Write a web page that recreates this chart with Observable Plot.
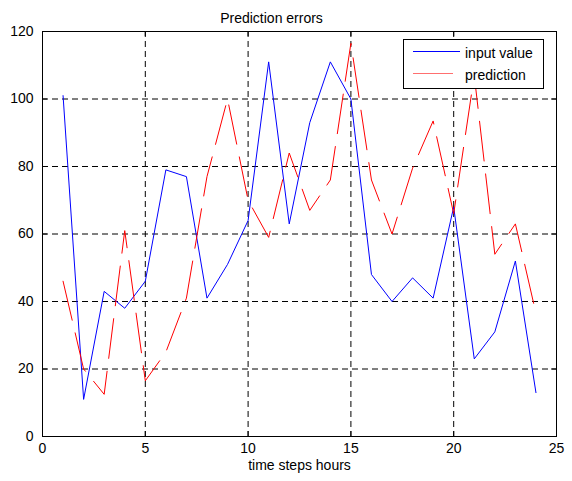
<!DOCTYPE html>
<html><head><meta charset="utf-8">
<script src="https://cdn.jsdelivr.net/npm/d3@7"></script>
<script src="https://cdn.jsdelivr.net/npm/@observablehq/plot@0.6"></script>
<style>
body{margin:0;background:#fff;}
svg{font-family:"Liberation Sans",Arial,Helvetica,sans-serif;}
</style>
</head><body><div id="chart"></div>
<script>
const steps = [1,2,3,4,5,6,7,8,9,10,11,12,13,14,15,16,17,18,19,20,21,22,23,24];
const inputValue = [101, 11, 43, 38, 46, 79, 77, 41, 51, 64, 111, 63, 93, 111, 100, 48, 40, 47, 41, 68, 23, 31, 52, 13];
const prediction = [46, 20, 12.5, 61, 16.5, 25, 41, 77, 100, 70, 59, 84, 67, 76, 116.5, 76, 60, 79.5, 93.5, 66, 107, 54, 63, 36.5];
const xTicks = [0, 5, 10, 15, 20, 25];
const yTicks = [0, 20, 40, 60, 80, 100, 120];
const gridX = [5, 10, 15, 20];
const gridY = [20, 40, 60, 80, 100];
const titleText = "Prediction errors";
const xLabel = "time steps hours";
const seriesNames = ["input value", "prediction"];
const seriesColors = ["#0000ff", "#ff0000"];

const W = 572, H = 481, mL = 42, mR = 16, mT = 31, mB = 45;
const fw = W - mL - mR, fh = H - mT - mB;
const inputRows = steps.map((t, i) => ({t, v: inputValue[i]}));
const predRows = steps.map((t, i) => ({t, v: prediction[i]}));

const chart = Plot.plot({
  width: W, height: H,
  marginLeft: mL, marginRight: mR, marginTop: mT, marginBottom: mB,
  style: {fontFamily: '"Liberation Sans",Arial,Helvetica,sans-serif', fontSize: "14px", background: "white", color: "black"},
  x: {domain: [0, 25]},
  y: {domain: [0, 120]},
  marks: [
    Plot.ruleX(gridX, {x: d => d, stroke: "black", strokeWidth: 1, strokeDasharray: "6,4"}),
    Plot.ruleY(gridY, {y: d => d, stroke: "black", strokeWidth: 1, strokeDasharray: "6,4"}),
    Plot.line(inputRows, {x: "t", y: "v", stroke: seriesColors[0], strokeWidth: 1}),
    Plot.line(predRows, {x: "t", y: "v", stroke: seriesColors[1], strokeWidth: 1, strokeDasharray: "40,13"}),
    Plot.frame({stroke: "black", strokeWidth: 1}),
    Plot.tickY(yTicks, {y: d => d, stroke: "black", insetRight: fw - 5}),
    Plot.tickY(yTicks, {y: d => d, stroke: "black", insetLeft: fw - 5}),
    Plot.tickX(xTicks, {x: d => d, stroke: "black", insetTop: fh - 5}),
    Plot.tickX(xTicks, {x: d => d, stroke: "black", insetBottom: fh - 5}),
    Plot.axisX(xTicks, {tickSize: 0, tickPadding: 7, label: null, fontSize: 14, fill: "black"}),
    Plot.axisY(yTicks, {tickSize: 0, tickPadding: 9, label: null, fontSize: 14, fill: "black"}),
    Plot.text([xLabel], {text: d => d, frameAnchor: "bottom", dy: 33, fontSize: 14, fill: "black"}),
    Plot.text([titleText], {text: d => d, frameAnchor: "top", dy: -18, dx: -28, fontSize: 14, fill: "black"})
  ]
});
document.getElementById("chart").appendChild(chart);

// legend box
const svg = d3.select(chart);
const lg = svg.append("g").attr("text-anchor", "start");
lg.append("rect").attr("x", 403.5).attr("y", 39.5).attr("width", 140).attr("height", 49)
  .attr("fill", "white").attr("stroke", "black").attr("stroke-width", 1);
const rowsY = [51.5, 73.5];
const lineEnd = [460, 453];
seriesNames.forEach((name, i) => {
  lg.append("line").attr("x1", 413).attr("x2", lineEnd[i]).attr("y1", rowsY[i]).attr("y2", rowsY[i])
    .attr("stroke", i === 0 ? seriesColors[0] : "#ff6f6f").attr("stroke-width", 1);
  lg.append("text").attr("x", 465).attr("y", rowsY[i] + 6.5).attr("text-anchor", "start")
    .attr("font-size", 14).attr("fill", "black").text(name);
});
</script>
</body></html>
